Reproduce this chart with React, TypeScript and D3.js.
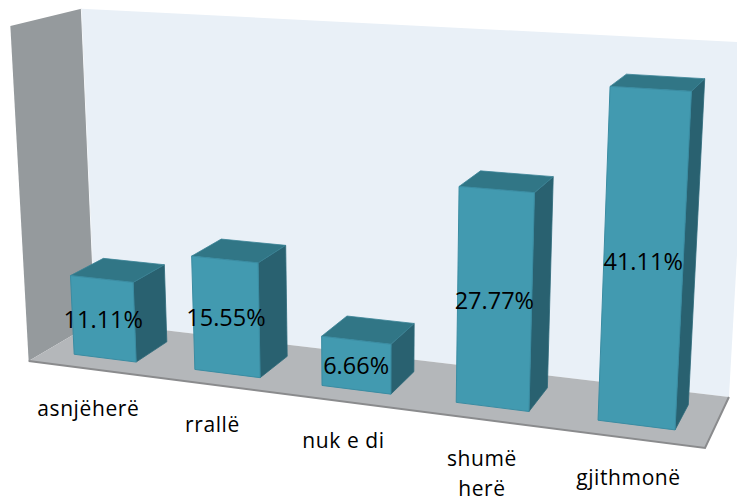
import React from "react";
import * as d3 from "d3";

// ---- data ----
const categories = ["asnjëherë", "rrallë", "nuk e di", "shumë herë", "gjithmonë"];
const values = [11.11, 15.55, 6.66, 27.77, 41.11];
const valueLabels = ["11.11%", "15.55%", "6.66%", "27.77%", "41.11%"];
const axisMax = 45;

// ---- layout: screen position of the plot box corners (world unit cube) ----
const FRAME: number[][] = [
  [0, 0, 0, 29, 361],
  [0, 1, 0, 10, 26],
  [0, 0, 1, 94.7, 322],
  [0, 1, 1, 81.7, 8.7],
  [1, 0, 0, 705, 448],
  [1, 0, 1, 729, 397],
  [1, 1, 1, 749, 42.6],
];

const W = 737;
const H = 504;

function solve(A: number[][], b: number[]): number[] {
  const n = b.length;
  const M = A.map((r, i) => [...r, b[i]]);
  for (let c = 0; c < n; c++) {
    let piv = c;
    for (let r = c + 1; r < n; r++) if (Math.abs(M[r][c]) > Math.abs(M[piv][c])) piv = r;
    const t = M[c];
    M[c] = M[piv];
    M[piv] = t;
    for (let r = 0; r < n; r++) {
      if (r === c) continue;
      const f = M[r][c] / M[c][c];
      for (let k = c; k <= n; k++) M[r][k] -= f * M[c][k];
    }
  }
  return M.map((r, i) => r[n] / r[i]);
}

function fitCamera(pts: number[][]) {
  const rows: number[][] = [];
  const rhs: number[] = [];
  for (const [X, Y, Z, x, y] of pts) {
    rows.push([X, Y, Z, 1, 0, 0, 0, 0, -x * X, -x * Y, -x * Z]);
    rhs.push(x);
    rows.push([0, 0, 0, 0, X, Y, Z, 1, -y * X, -y * Y, -y * Z]);
    rhs.push(y);
  }
  const n = 11;
  const AtA = Array.from({ length: n }, () => Array(n).fill(0));
  const Atb = Array(n).fill(0);
  rows.forEach((r, k) => {
    for (let i = 0; i < n; i++) {
      Atb[i] += r[i] * rhs[k];
      for (let j = 0; j < n; j++) AtA[i][j] += r[i] * r[j];
    }
  });
  const p = solve(AtA, Atb);
  return (X: number, Y: number, Z: number): [number, number] => {
    const w = p[8] * X + p[9] * Y + p[10] * Z + 1;
    return [
      (p[0] * X + p[1] * Y + p[2] * Z + p[3]) / w,
      (p[4] * X + p[5] * Y + p[6] * Z + p[7]) / w,
    ];
  };
}

const project = fitCamera(FRAME);

const poly = (pts: [number, number, number][]) =>
  pts.map((q) => project(q[0], q[1], q[2]).map((v) => v.toFixed(2)).join(",")).join(" ");

export default function App() {
  const x = d3.scaleBand<string>().domain(categories).range([0, 1]).paddingInner(0.48).paddingOuter(0.24);
  const y = d3.scaleLinear().domain([0, axisMax]).range([0, 1]);
  const zFront = 0.25;
  const zBack = 0.75;

  const bars = categories.map((c, i) => {
    const x0 = x(c)!;
    const x1 = x0 + x.bandwidth();
    const y1 = y(values[i]);
    const front: [number, number, number][] = [
      [x0, 0, zFront], [x1, 0, zFront], [x1, y1, zFront], [x0, y1, zFront],
    ];
    const top: [number, number, number][] = [
      [x0, y1, zFront], [x1, y1, zFront], [x1, y1, zBack], [x0, y1, zBack],
    ];
    const side: [number, number, number][] = [
      [x1, 0, zFront], [x1, 0, zBack], [x1, y1, zBack], [x1, y1, zFront],
    ];
    const lab = project((x0 + x1) / 2, y1 / 2, zFront);
    return { c, i, front, top, side, lab };
  });

  const fontFamily = "'Open Sans', 'Noto Sans', sans-serif";

  return (
    <svg
      width={W}
      height={H}
      viewBox={`0 0 ${W} ${H}`}
      style={{ position: "absolute", left: 0, top: 0, display: "block", background: "#fff" }}
    >
      {/* back wall */}
      <polygon points={poly([[0, 0, 1], [0, 1, 1], [1, 1, 1], [1, 0, 1]])} fill="#e9f0f7" />
      {/* side wall */}
      <polygon points={poly([[0, 0, 0], [0, 1, 0], [0, 1, 1], [0, 0, 1]])} fill="#959a9d" />
      <polyline points={poly([[0, 1, 1], [0, 0, 1]])} fill="none" stroke="#f4f7fa" strokeWidth={1} />
      {/* floor */}
      <polygon points={poly([[0, 0, 0], [1, 0, 0], [1, 0, 1], [0, 0, 1]])} fill="#b4b7ba" />
      <polyline points={poly([[0, 0, 0], [1, 0, 0], [1, 0, 1]])} fill="none" stroke="#8a8b8d" strokeWidth={2} />
      {/* bars */}
      {bars.map((b) => (
        <g key={b.c}>
          <polygon points={poly(b.side)} fill="#296170" stroke="#2c6878" strokeWidth={0.8} strokeLinejoin="round" />
          <polygon points={poly(b.top)} fill="#317686" stroke="#3a8396" strokeWidth={0.8} strokeLinejoin="round" />
          <polygon points={poly(b.front)} fill="#429ab0" stroke="#3a8ca2" strokeWidth={1} strokeLinejoin="round" />
        </g>
      ))}
      {/* data labels */}
      {bars.map((b) => (
        <text
          key={"v" + b.c}
          x={b.lab[0]}
          y={b.lab[1] + 9}
          textAnchor="middle"
          fontFamily={fontFamily}
          fontSize={23.5}
          fill="#000"
        >
          {valueLabels[b.i]}
        </text>
      ))}
      {/* category labels */}
      {categories.map((c) => {
        const [px, py] = project(x(c)! + x.bandwidth() / 2, 0, 0);
        const lines = c.length > 9 ? c.split(" ") : [c];
        return (
          <text
            key={"c" + c}
            x={px}
            y={py + 47}
            textAnchor="middle"
            fontFamily={fontFamily}
            fontSize={21}
            letterSpacing={0.6}
            fill="#000"
          >
            {lines.map((l, k) => (
              <tspan key={k} x={px} dy={k === 0 ? 0 : 30}>
                {l}
              </tspan>
            ))}
          </text>
        );
      })}
    </svg>
  );
}
